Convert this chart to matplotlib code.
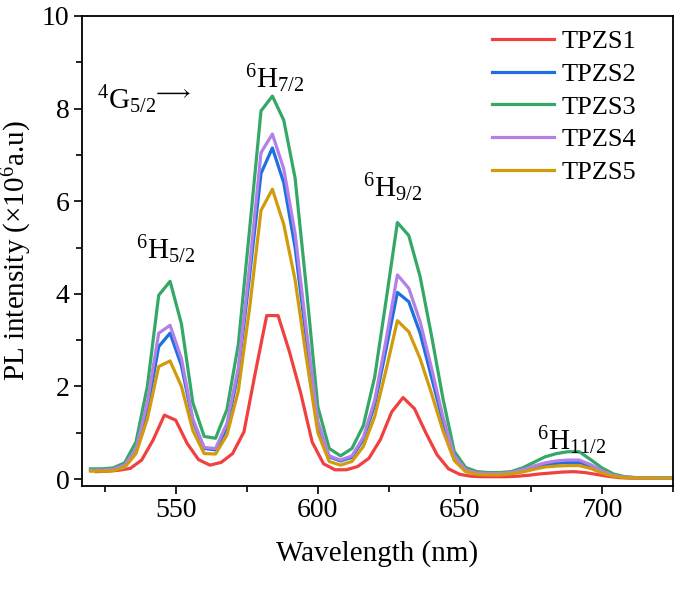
import numpy as np
import matplotlib
matplotlib.use('Agg')
import matplotlib.pyplot as plt
from matplotlib.ticker import MultipleLocator

plt.rcParams['font.family'] = ['Liberation Serif', 'DejaVu Serif']
plt.rcParams['mathtext.fontset'] = 'custom'
plt.rcParams['mathtext.rm'] = 'Liberation Serif'
plt.rcParams['mathtext.it'] = 'Liberation Serif:italic'

# wavelength grids (nm)
wl = np.arange(520, 725, 4)
wl_red = np.arange(522, 727, 4)

labels = ['TPZS1', 'TPZS2', 'TPZS3', 'TPZS4', 'TPZS5']
colors = ['#F0403F', '#1E6FE0', '#34A867', '#B380E8', '#D19B0C']

tpzs1 = [0.16, 0.17, 0.19, 0.23, 0.41, 0.84, 1.38, 1.27, 0.77, 0.42, 0.30, 0.36, 0.55,
         1.02, 2.30, 3.53, 3.53, 2.75, 1.85, 0.80, 0.33, 0.20, 0.20, 0.27, 0.45, 0.85,
         1.45, 1.76, 1.52, 1.00, 0.52, 0.22, 0.10, 0.06, 0.05, 0.05, 0.05, 0.06, 0.08,
         0.11, 0.13, 0.15, 0.16, 0.14, 0.10, 0.06, 0.03, 0.02, 0.02, 0.02, 0.02, 0.02]
tpzs2 = [0.19, 0.19, 0.20, 0.28, 0.60, 1.50, 2.86, 3.15, 2.45, 1.25, 0.66, 0.63, 1.10,
         2.30, 4.40, 6.60, 7.15, 6.40, 5.00, 3.00, 1.15, 0.48, 0.39, 0.47, 0.85, 1.60,
         2.80, 4.03, 3.83, 3.15, 2.20, 1.25, 0.47, 0.19, 0.12, 0.11, 0.11, 0.13, 0.18,
         0.25, 0.31, 0.34, 0.36, 0.36, 0.28, 0.16, 0.07, 0.04, 0.03, 0.02, 0.02, 0.02]
tpzs3 = [0.22, 0.22, 0.24, 0.35, 0.80, 2.00, 3.97, 4.27, 3.35, 1.65, 0.92, 0.88, 1.50,
         2.90, 5.40, 7.95, 8.27, 7.75, 6.50, 4.10, 1.56, 0.66, 0.50, 0.66, 1.15, 2.20,
         3.85, 5.54, 5.26, 4.37, 3.10, 1.75, 0.60, 0.25, 0.16, 0.14, 0.14, 0.16, 0.24,
         0.36, 0.48, 0.55, 0.59, 0.59, 0.42, 0.24, 0.11, 0.05, 0.03, 0.02, 0.02, 0.02]
tpzs4 = [0.19, 0.19, 0.21, 0.30, 0.65, 1.65, 3.15, 3.32, 2.60, 1.30, 0.68, 0.66, 1.20,
         2.40, 4.60, 7.05, 7.45, 6.70, 5.30, 3.20, 1.25, 0.50, 0.41, 0.50, 0.90, 1.70,
         3.00, 4.41, 4.12, 3.40, 2.40, 1.35, 0.50, 0.20, 0.13, 0.12, 0.12, 0.14, 0.20,
         0.28, 0.35, 0.39, 0.41, 0.41, 0.31, 0.18, 0.08, 0.04, 0.03, 0.02, 0.02, 0.02]
tpzs5 = [0.17, 0.17, 0.18, 0.25, 0.55, 1.30, 2.43, 2.55, 2.00, 1.05, 0.55, 0.54, 0.95,
         1.90, 3.70, 5.80, 6.26, 5.50, 4.30, 2.60, 1.00, 0.38, 0.30, 0.38, 0.70, 1.35,
         2.35, 3.42, 3.18, 2.60, 1.85, 1.05, 0.40, 0.16, 0.10, 0.09, 0.09, 0.11, 0.15,
         0.21, 0.26, 0.28, 0.29, 0.29, 0.23, 0.13, 0.06, 0.03, 0.02, 0.02, 0.02, 0.02]

series = [(wl_red, tpzs1), (wl, tpzs2), (wl, tpzs3), (wl, tpzs4), (wl, tpzs5)]

fig = plt.figure(figsize=(6.85, 5.9), dpi=100)
ax = fig.add_axes([0.1197, 0.1763, 0.8628, 0.7966])

for (x, y), lab, c in zip(series, labels, colors):
    ax.plot(x, y, color=c, lw=2.3, label=lab)

ax.set_xlim(517, 725)
ax.set_ylim(-0.15, 10)
ax.xaxis.set_major_locator(MultipleLocator(50))
ax.xaxis.set_minor_locator(MultipleLocator(25))
ax.yaxis.set_major_locator(MultipleLocator(2))
ax.yaxis.set_minor_locator(MultipleLocator(1))
ax.tick_params(which='both', direction='out', width=1.2, labelsize=20, top=False, right=False)
ax.tick_params(which='major', length=6, pad=3)
ax.tick_params(which='minor', length=4)
for s in ax.spines.values():
    s.set_linewidth(1.3)

ax.set_xlabel('Wavelength (nm)', fontsize=21, labelpad=12)
ax.set_ylabel('PL intensity (×10$^{6}$a.u)', fontsize=21, labelpad=6)

# transition labels
ax.text(522.2, 8.2, r'$^{4}\mathrm{G}_{5/2}$', fontsize=21, ha='left', va='center')
ax.text(541.8, 8.33, r'$\longrightarrow$', fontsize=16, ha='left', va='center')
ax.text(584.8, 8.64, r'$^{6}\mathrm{H}_{7/2}$', fontsize=21, ha='center', va='center')
ax.text(546.5, 4.95, r'$^{6}\mathrm{H}_{5/2}$', fontsize=21, ha='center', va='center')
ax.text(626.2, 6.29, r'$^{6}\mathrm{H}_{9/2}$', fontsize=21, ha='center', va='center')
ax.text(689.5, 0.82, r'$^{6}\mathrm{H}_{11/2}$', fontsize=21, ha='center', va='center')

ax.legend(loc='upper right', bbox_to_anchor=(0.97, 1.01), frameon=False, fontsize=19,
          handlelength=2.35, handletextpad=0.3, labelspacing=0.35, borderaxespad=0.3)

plt.savefig('out.png', dpi=100)
